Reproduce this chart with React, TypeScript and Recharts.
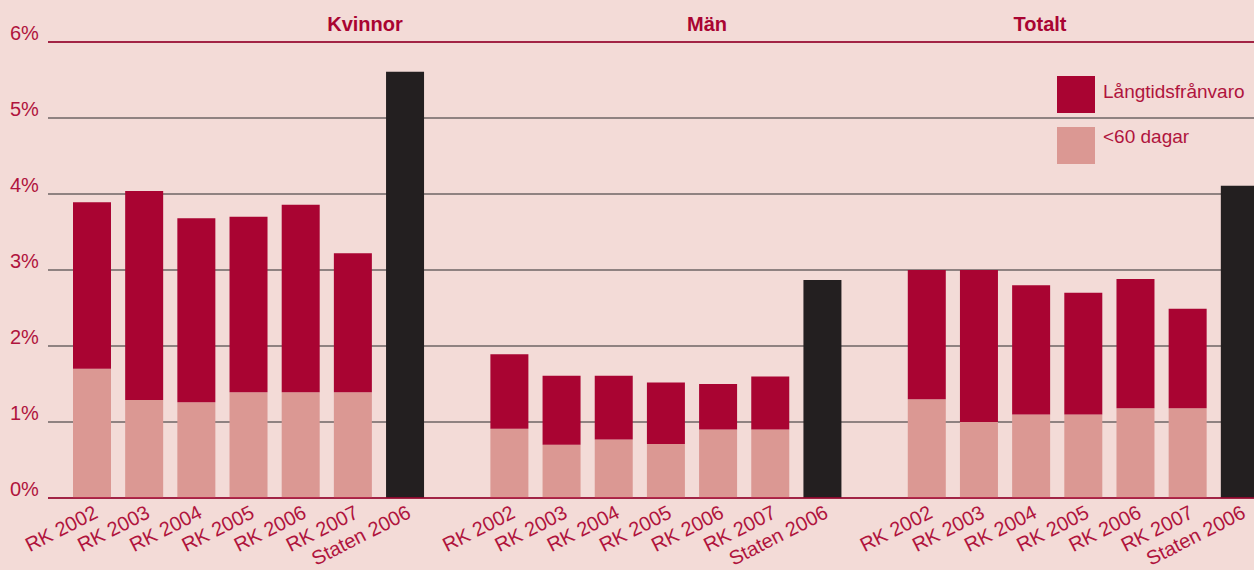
import { Bar, BarChart, CartesianGrid, ReferenceLine, XAxis, YAxis } from "recharts";

const CATEGORIES = ["RK 2002", "RK 2003", "RK 2004", "RK 2005", "RK 2006", "RK 2007"];
const STATEN_LABEL = "Staten 2006";
const Y_TICKS = [0, 1, 2, 3, 4, 5, 6];

// <60 dagar / Långtidsfrånvaro, percent
const KVINNOR_SHORT = [1.7, 1.29, 1.26, 1.39, 1.39, 1.39];
const KVINNOR_LONG = [2.19, 2.75, 2.42, 2.31, 2.47, 1.83];
const KVINNOR_STATEN = 5.61;

const MAN_SHORT = [0.91, 0.7, 0.77, 0.71, 0.9, 0.9];
const MAN_LONG = [0.98, 0.91, 0.84, 0.81, 0.6, 0.7];
const MAN_STATEN = 2.87;

const TOTALT_SHORT = [1.3, 1.0, 1.1, 1.1, 1.18, 1.18];
const TOTALT_LONG = [1.7, 2.0, 1.7, 1.6, 1.7, 1.31];
const TOTALT_STATEN = 4.11;

const CRIMSON = "#a90432";
const PINK = "#db9893";
const BLACK = "#231f20";
const BG = "#f3dbd7";
const TEXT = "#b0143d";

type Row = { label: string; short?: number; long?: number; staten?: number };

function group(short: number[], long: number[], staten: number): Row[] {
	const rows: Row[] = CATEGORIES.map((label, i) => ({ label, short: short[i], long: long[i] }));
	rows.push({ label: STATEN_LABEL, staten });
	return rows;
}

const data: Row[] = [
	...group(KVINNOR_SHORT, KVINNOR_LONG, KVINNOR_STATEN),
	{ label: "" },
	...group(MAN_SHORT, MAN_LONG, MAN_STATEN),
	{ label: "" },
	...group(TOTALT_SHORT, TOTALT_LONG, TOTALT_STATEN),
];

const TITLES = [
	{ text: "Kvinnor", x: 365 },
	{ text: "Män", x: 707 },
	{ text: "Totalt", x: 1040 },
];

function XTick(props: any) {
	const { x, y, payload } = props;
	if (!payload.value) return null;
	const tx = x + 7;
	const ty = y + 11;
	return (
		<text x={tx} y={ty} textAnchor="end" fill={TEXT} fontSize={20} transform={`rotate(-27, ${tx}, ${ty})`}>
			{payload.value}
		</text>
	);
}

function YTick(props: any) {
	const { y, payload } = props;
	return (
		<text x={10} y={y - 2.5} textAnchor="start" fill={TEXT} fontSize={20}>
			{`${payload.value}%`}
		</text>
	);
}

export default function App() {
	return (
		<div
			style={{
				position: "absolute",
				left: 0,
				top: 0,
				width: 1254,
				height: 570,
				overflow: "hidden",
				background: BG,
				fontFamily: "'Liberation Sans', Arial, sans-serif",
			}}
		>
			<BarChart width={1266} height={570} data={data} margin={{ top: 42, right: 0, left: 0, bottom: 0 }} barSize={38}>
				<CartesianGrid vertical={false} stroke="#6e6464" strokeWidth={1.4} />
				<XAxis
					dataKey="label"
					interval={0}
					height={72}
					padding={{ left: 18, right: 0 }}
					tickLine={false}
					axisLine={{ stroke: CRIMSON, strokeWidth: 1.5 }}
					tick={<XTick />}
				/>
				<YAxis width={48} domain={[0, 6]} ticks={Y_TICKS} axisLine={false} tickLine={false} tick={<YTick />} />
				<ReferenceLine y={6} stroke={CRIMSON} strokeWidth={1.5} />
				<Bar dataKey="short" stackId="a" fill={PINK} isAnimationActive={false} />
				<Bar dataKey="long" stackId="a" fill={CRIMSON} isAnimationActive={false} />
				<Bar dataKey="staten" stackId="a" fill={BLACK} isAnimationActive={false} />
			</BarChart>
			{TITLES.map((t) => (
				<div
					key={t.text}
					style={{
						position: "absolute",
						left: t.x - 60,
						width: 120,
						top: 14,
						textAlign: "center",
						fontSize: 20,
						lineHeight: "20px",
						fontWeight: "bold",
						color: CRIMSON,
					}}
				>
					{t.text}
				</div>
			))}
			<div style={{ position: "absolute", left: 1057, top: 76, width: 38, height: 37, background: CRIMSON }} />
			<div style={{ position: "absolute", left: 1057, top: 127, width: 38, height: 37, background: PINK }} />
			<div style={{ position: "absolute", left: 1103, top: 82, fontSize: 19, lineHeight: "19px", color: TEXT }}>
				Långtidsfrånvaro
			</div>
			<div style={{ position: "absolute", left: 1103, top: 127, fontSize: 19, lineHeight: "19px", color: TEXT }}>
				&lt;60 dagar
			</div>
		</div>
	);
}
